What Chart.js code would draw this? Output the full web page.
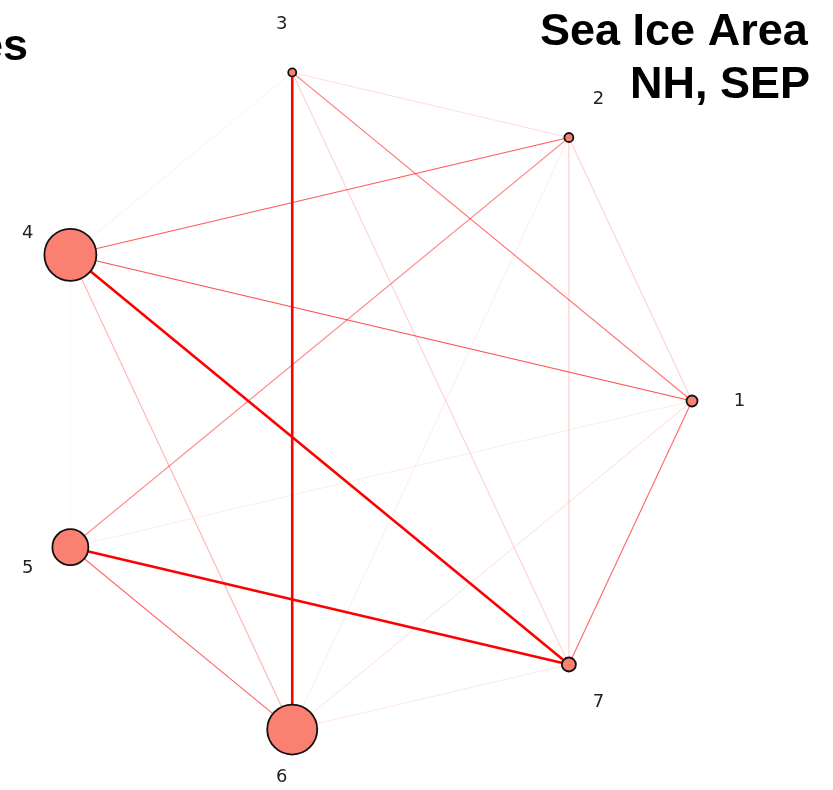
<!DOCTYPE html>
<html>
<head>
<meta charset="utf-8">
<script src="https://cdn.jsdelivr.net/npm/chart.js@4/dist/chart.umd.min.js"></script>
<style>
  html, body { margin: 0; padding: 0; background: #ffffff; }
  #wrap { width: 833px; height: 790px; position: relative; }
</style>
</head>
<body>
<div id="wrap"><canvas id="c" width="833" height="790"></canvas></div>
<script>
// ---- data ----
const nodeLabels = ['1', '2', '3', '4', '5', '6', '7'];
const nodeSizes = [5.5, 4.5, 4, 26, 18, 25, 7];
const edgeFrom   = [3, 4, 5, 4, 4, 3, 3, 3, 3, 2, 2, 2, 2, 1, 1, 1, 6, 5, 4, 4, 3];
const edgeTo     = [6, 7, 7, 2, 1, 1, 2, 4, 7, 5, 1, 7, 6, 7, 5, 6, 7, 6, 6, 5, 5];
const edgeWeight = [1.0, 1.0, 1.0, 0.65, 0.7, 0.55, 0.13, 0.05, 0.18, 0.45, 0.18, 0.2, 0.07, 0.6, 0.08, 0.1, 0.1, 0.6, 0.3, 0.04, 0.02];
const titleLeft = 'es';
const titleRight = ['Sea Ice Area', 'NH, SEP'];

// circular layout
const n = nodeLabels.length;
function pos(i, f) {
  const a = 2 * Math.PI * i / n;
  return { x: f * Math.cos(a), y: f * Math.sin(a) };
}

const datasets = [];
for (let k = 0; k < edgeFrom.length; k++) {
  const a = pos(edgeFrom[k] - 1, 1), b = pos(edgeTo[k] - 1, 1);
  const w = edgeWeight[k];
  datasets.push({
    type: 'line',
    data: [a, b],
    borderColor: 'rgba(255,0,0,' + w + ')',
    borderWidth: w >= 0.9 ? 2.6 : 1.1,
    pointRadius: 0,
    showLine: true,
    fill: false,
    order: 2,
    clip: false
  });
}
datasets.push({
  type: 'bubble',
  data: nodeSizes.map((r, i) => Object.assign(pos(i, 1), { r: r })),
  backgroundColor: '#fa8072',
  borderColor: '#111111',
  borderWidth: 1.8,
  order: 0,
  clip: false
});

const labelPlugin = {
  id: 'labels',
  afterDraw(chart) {
    const ctx = chart.ctx;
    const xs = chart.scales.x, ys = chart.scales.y;
    ctx.save();
    ctx.fillStyle = '#222222';
    ctx.font = '18px "DejaVu Sans", sans-serif';
    ctx.textAlign = 'center';
    ctx.textBaseline = 'middle';
    nodeLabels.forEach((t, i) => {
      const p = pos(i, 1.145);
      ctx.fillText(t, xs.getPixelForValue(p.x), ys.getPixelForValue(p.y));
    });
    ctx.fillStyle = '#000000';
    ctx.font = 'bold 45px "Liberation Sans", Arial, sans-serif';
    ctx.textBaseline = 'alphabetic';
    ctx.textAlign = 'right';
    ctx.fillText(titleLeft, 28, 60);
    ctx.textAlign = 'left';
    ctx.fillText(titleRight[0], 540, 45);
    ctx.fillText(titleRight[1], 630, 98);
    ctx.restore();
  }
};

new Chart(document.getElementById('c'), {
  type: 'scatter',
  data: { datasets: datasets },
  options: {
    responsive: false,
    animation: false,
    layout: { autoPadding: false, padding: { left: 5.3, right: 108.3, top: 30.3, bottom: 18.3 } },
    plugins: { legend: { display: false }, tooltip: { enabled: false }, title: { display: false } },
    scales: {
      x: { display: false, min: -1.1, max: 1.1 },
      y: { display: false, min: -1.1, max: 1.1 }
    }
  },
  plugins: [labelPlugin]
});
</script>
</body>
</html>
